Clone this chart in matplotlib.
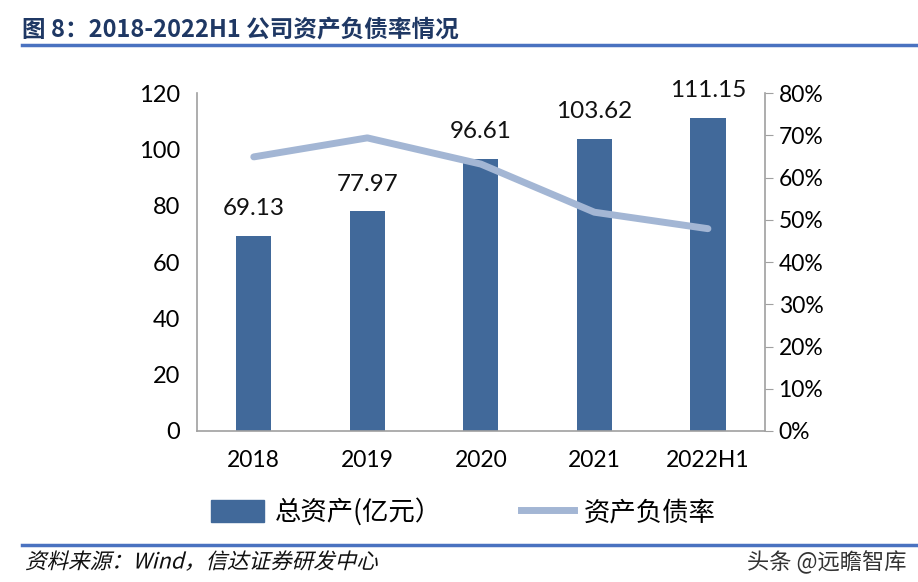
import matplotlib.pyplot as plt
from matplotlib.lines import Line2D
from matplotlib.patches import Patch, PathPatch
from matplotlib.textpath import TextPath
from matplotlib.font_manager import FontProperties
from matplotlib.transforms import Affine2D

plt.rcParams['font.family'] = ['Lato', 'Noto Sans CJK SC', 'DejaVu Sans']

years = ['2018', '2019', '2020', '2021', '2022H1']
total_assets = [69.13, 77.97, 96.61, 103.62, 111.15]
debt_ratio = [0.649, 0.694, 0.632, 0.518, 0.479]

bar_color = '#41699a'
line_color = '#a3b6d4'
grey = '#a0a0a0'

fig = plt.figure(figsize=(9.18, 5.82), dpi=100)
ax = fig.add_axes([0.2146, 0.2595, 0.6184, 0.5805])
x = range(len(years))
ax.bar(x, total_assets, width=0.31, color=bar_color, zorder=2)
for i, v in enumerate(total_assets):
    ax.text(i, v + 6, '%.2f' % v, ha='center', va='bottom', fontsize=17.5, color='#111111')
ax.set_xlim(-0.5, 4.5)
ax.set_ylim(0, 120)
ax.set_yticks(range(0, 121, 20))
ax.set_xticks(list(x))
ax.set_xticklabels(years)
ax.tick_params(axis='y', length=0, pad=12, labelsize=17)
ax.tick_params(axis='x', length=0, pad=14, labelsize=16.5)
for s in ['top', 'right']:
    ax.spines[s].set_visible(False)
for s in ['left', 'bottom']:
    ax.spines[s].set_color(grey)
    ax.spines[s].set_linewidth(1.2)

ax2 = ax.twinx()
ax2.plot(list(x), debt_ratio, color=line_color, lw=5, solid_capstyle='round', zorder=3)
ax2.set_ylim(0, 0.8)
ax2.set_yticks([i / 10 for i in range(9)])
ax2.set_yticklabels(['%d%%' % (i * 10) for i in range(9)])
ax2.tick_params(axis='y', direction='out', length=6, color=grey, labelsize=16.5, pad=4)
for s in ['top', 'left', 'bottom']:
    ax2.spines[s].set_visible(False)
ax2.spines['right'].set_color(grey)
ax2.spines['right'].set_linewidth(1.2)

handles = [Patch(color=bar_color), Line2D([0], [0], color=line_color, lw=5)]
fig.legend(handles, ['总资产(亿元）', '资产负债率'], loc='center', bbox_to_anchor=(0.505, 0.12),
           ncol=2, frameon=False, handlelength=2.0, handleheight=0.9,
           columnspacing=3.0, handletextpad=0.4, prop={'family': ['Noto Sans CJK SC'], 'size': 19})

fig.text(0.024, 0.948, '图 8：2018-2022H1 公司资产负债率情况', fontsize=17, fontweight='bold',
         color='#1f3864', va='center', family=['Noto Sans CJK SC'])
fig.add_artist(Line2D([0.024, 1.0], [0.922, 0.922], color='#4a72c0', lw=2.5))
fig.add_artist(Line2D([0.024, 1.0], [0.063, 0.063], color='#4a72c0', lw=2.5))

# italic source note (CJK font has no italic, so skew the glyph outlines)
src = TextPath((0, 0), '资料来源：Wind，信达证券研发中心', size=15.5,
               prop=FontProperties(family='Noto Sans CJK SC'))
tr = Affine2D().skew_deg(14, 0).scale(1 / 72).translate(0.25, 0.135) + fig.dpi_scale_trans
fig.add_artist(PathPatch(src, transform=tr, color='#111111', lw=0))

fig.text(0.987, 0.034, '头条 @远瞻智库', fontsize=16, color='#333333', ha='right', va='center',
         family=['Noto Sans CJK SC'])

fig.savefig('out.png', dpi=100)
